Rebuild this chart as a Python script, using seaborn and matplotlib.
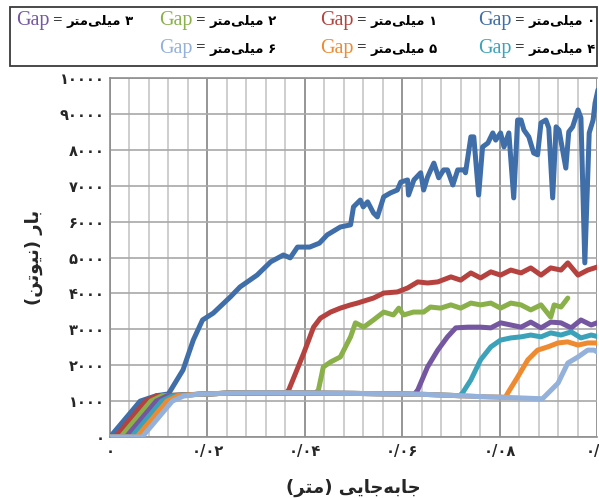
import matplotlib
matplotlib.use("Agg")
import matplotlib.pyplot as plt
from matplotlib.patches import Rectangle
from matplotlib.offsetbox import TextArea, HPacker, AnnotationBbox
import numpy as np
import pandas as pd
import seaborn as sns

# ---- data: load (N) vs displacement (m) for each gap size ----
gaps_mm = [0, 1, 2, 3, 4, 5, 6]

gap0_x = [0, 0.0062, 0.0095, 0.012, 0.015, 0.0171, 0.019, 0.0212, 0.0247, 0.0267, 0.0302,
          0.033, 0.0356, 0.037, 0.0385, 0.041, 0.043, 0.0446, 0.0473, 0.0494, 0.050, 0.0514,
          0.052, 0.0529, 0.0541, 0.0549, 0.0562, 0.0576, 0.059, 0.0597, 0.0611, 0.0613,
          0.0624, 0.0638, 0.0644, 0.0652, 0.0665, 0.0675, 0.0685, 0.0693, 0.0704, 0.0714,
          0.0727, 0.073, 0.0741, 0.0747, 0.0757, 0.0765, 0.0776, 0.0786, 0.0792, 0.0802,
          0.0809, 0.0819, 0.0829, 0.0837, 0.0844, 0.085, 0.086, 0.087, 0.0878, 0.0885,
          0.0895, 0.0901, 0.0909, 0.0916, 0.0922, 0.0936, 0.0942, 0.095, 0.0961, 0.0967,
          0.0975, 0.0984, 0.0992, 0.0996, 0.1002]
gap0_y = [0, 1000, 1150, 1200, 1870, 2700, 3260, 3450, 3900, 4180, 4510,
          4880, 5070, 4990, 5290, 5290, 5400, 5630, 5850, 5910, 6410, 6600,
          6410, 6550, 6240, 6130, 6690, 6800, 6880, 7100, 7160, 6740,
          7160, 7360, 6880, 7240, 7630, 7220, 7440, 7440, 7020, 7440,
          7440, 7360, 8360, 8360, 6740, 8080, 8190, 8470, 8270, 8470,
          8080, 8470, 6660, 8830, 8830, 8550, 8360, 7910, 7860, 8750,
          8830, 8610, 6660, 8640, 8550, 7490, 8500, 8640, 9110, 8890,
          4850, 8470, 8830, 9300, 9670]

gap1_x = [0, 0.0011, 0.0073, 0.0096, 0.015, 0.02, 0.025, 0.03, 0.035, 0.0362, 0.0367,
          0.0398, 0.0418, 0.0432, 0.0453, 0.0473, 0.0494, 0.0508, 0.0529, 0.0541, 0.0562,
          0.059, 0.0611, 0.0632, 0.0652, 0.0673, 0.07, 0.072, 0.0741, 0.0761, 0.0782,
          0.0802, 0.0823, 0.0844, 0.0864, 0.0885, 0.0905, 0.0926, 0.094, 0.0961, 0.0981,
          0.1002]
gap1_y = [0, 0, 1000, 1150, 1170, 1200, 1225, 1230, 1230, 1230, 1310,
          2340, 3060, 3310, 3480, 3590, 3680, 3730, 3820, 3870, 4010,
          4040, 4150, 4320, 4290, 4320, 4460, 4370, 4570, 4430, 4600,
          4510, 4650, 4570, 4710, 4510, 4710, 4650, 4850, 4510, 4650,
          4740]

gap2_x = [0, 0.0022, 0.0084, 0.0107, 0.015, 0.02, 0.025, 0.03, 0.035, 0.04, 0.0422,
          0.0428, 0.0438, 0.0453, 0.0473, 0.0494, 0.0504, 0.0521, 0.0541, 0.0562, 0.0582,
          0.0593, 0.0603, 0.0623, 0.0644, 0.0658, 0.0679, 0.07, 0.072, 0.0741, 0.0761,
          0.0782, 0.0802, 0.0823, 0.0844, 0.0864, 0.0885, 0.0905, 0.0912, 0.0926, 0.094]
gap2_y = [0, 0, 1000, 1150, 1170, 1200, 1225, 1230, 1230, 1225, 1222,
          1310, 1950, 2090, 2230, 2790, 3180, 3060, 3260, 3480, 3400,
          3590, 3400, 3480, 3480, 3620, 3590, 3680, 3590, 3730, 3680,
          3730, 3590, 3730, 3680, 3540, 3680, 3340, 3680, 3620, 3870]

gap3_x = [0, 0.0033, 0.0095, 0.0118, 0.015, 0.02, 0.025, 0.03, 0.035, 0.04, 0.045,
          0.05, 0.055, 0.06, 0.0625, 0.0632, 0.0652, 0.0673, 0.0693, 0.071, 0.0735,
          0.0761, 0.0782, 0.0802, 0.0823, 0.0844, 0.0864, 0.0885, 0.0905, 0.0926, 0.0947,
          0.0967, 0.0988, 0.1004]
gap3_y = [0, 0, 1000, 1150, 1170, 1200, 1225, 1230, 1230, 1225, 1220,
          1215, 1205, 1200, 1190, 1310, 1950, 2420, 2790, 3040, 3060,
          3060, 3040, 3180, 3120, 3060, 3200, 3040, 3200, 3180, 3040,
          3260, 3120, 3200]

gap4_x = [0, 0.0044, 0.0106, 0.0129, 0.016, 0.02, 0.025, 0.03, 0.035, 0.04, 0.045,
          0.05, 0.055, 0.06, 0.065, 0.07, 0.0718, 0.0724, 0.0741, 0.0761, 0.0782,
          0.0802, 0.0823, 0.0844, 0.0864, 0.0885, 0.0905, 0.0926, 0.0947, 0.0967, 0.0988,
          0.1004]
gap4_y = [0, 0, 1000, 1150, 1175, 1200, 1225, 1230, 1230, 1225, 1220,
          1215, 1205, 1200, 1185, 1160, 1150, 1230, 1590, 2150, 2510,
          2700, 2760, 2790, 2840, 2790, 2900, 2840, 2930, 2760, 2840,
          2790]

gap5_x = [0, 0.0055, 0.0117, 0.014, 0.017, 0.02, 0.025, 0.03, 0.035, 0.04, 0.045,
          0.05, 0.055, 0.06, 0.065, 0.07, 0.075, 0.08, 0.0812, 0.0817, 0.0837,
          0.0858, 0.0878, 0.0899, 0.092, 0.094, 0.0961, 0.0981, 0.1004]
gap5_y = [0, 0, 1000, 1150, 1185, 1200, 1225, 1230, 1230, 1225, 1220,
          1215, 1205, 1200, 1185, 1160, 1130, 1110, 1105, 1230, 1670,
          2150, 2420, 2510, 2620, 2650, 2560, 2620, 2620]

gap6_x = [0, 0.0066, 0.0128, 0.0151, 0.018, 0.02, 0.025, 0.03, 0.035, 0.04, 0.045,
          0.05, 0.055, 0.06, 0.065, 0.07, 0.075, 0.08, 0.085, 0.0888, 0.092,
          0.094, 0.0961, 0.0981, 0.0994, 0.1004]
gap6_y = [0, 0, 1000, 1140, 1190, 1200, 1225, 1230, 1230, 1225, 1220,
          1215, 1205, 1200, 1185, 1160, 1130, 1110, 1085, 1065, 1500,
          2060, 2230, 2420, 2420, 2340]

series_x = [gap0_x, gap1_x, gap2_x, gap3_x, gap4_x, gap5_x, gap6_x]
series_y = [gap0_y, gap1_y, gap2_y, gap3_y, gap4_y, gap5_y, gap6_y]

colors = ["#3F6EA8", "#B5423E", "#8AB04A", "#7457A0", "#3CA2BA", "#EE8A30", "#93B1DB"]

# Persian tick labels
x_ticks = [0, 0.02, 0.04, 0.06, 0.08, 0.1]
x_tick_labels = ["۰", "۰/۰۲", "۰/۰۴", "۰/۰۶", "۰/۰۸", "۰/۱"]
y_ticks = [0, 1000, 2000, 3000, 4000, 5000, 6000, 7000, 8000, 9000, 10000]
y_tick_labels = ["۰", "۱۰۰۰", "۲۰۰۰", "۳۰۰۰", "۴۰۰۰", "۵۰۰۰",
                 "۶۰۰۰", "۷۰۰۰", "۸۰۰۰", "۹۰۰۰۰", "۱۰۰۰۰"]
fa_digits = "۰۱۲۳۴۵۶۷۸۹"

# Persian words written as presentation forms in visual (left-to-right) order
word_millimetre = "\uFEAE\uFE98\uFEE3\uFEF0\uFEE0\uFEF4\uFEE3"          # میلی‌متر
y_title = "(\uFEE6\uFE97\uFEEE\uFEF4\uFEE7) \uFEAD\uFE8E\uFE91"          # بار (نیوتن)
x_title = "(\uFEAE\uFE98\uFEE3) \uFEF0\uFEF3\uFE8E\uFE9F\uFEEA\uFE91\uFE8E\uFE9F"  # جابه‌جایی (متر)

# ---- build long-form table ----
frames = []
for g, xs, ys in zip(gaps_mm, series_x, series_y):
    frames.append(pd.DataFrame({"disp": xs, "load": ys, "gap": str(g)}))
df = pd.concat(frames, ignore_index=True)

sns.set_theme(style="white")
plt.rcParams["font.family"] = ["DejaVu Sans"]

fig = plt.figure(figsize=(5.99, 4.98), dpi=100)
ax = fig.add_axes([110 / 599, 1 - 437 / 498, (597 - 110) / 599, (437 - 78) / 498])

# grid: minor verticals, major verticals, horizontals
for xv in np.arange(0, 0.1001, 0.004):
    is_major = abs(xv / 0.02 - round(xv / 0.02)) < 1e-6
    ax.axvline(xv, color="#8E8E8E" if is_major else "#C6C6C6",
               lw=1.3 if is_major else 1.2, zorder=0)
for yv in y_ticks:
    ax.axhline(yv, color="#A8A8A8", lw=1.2, zorder=0)

sns.lineplot(data=df, x="disp", y="load", hue="gap", palette=colors,
             hue_order=[str(g) for g in gaps_mm], estimator=None, sort=False,
             linewidth=3.6, legend=False, ax=ax, zorder=3)
for line in ax.get_lines():
    line.set_solid_capstyle("round")
    line.set_solid_joinstyle("round")

ax.set_xlim(0, 0.1)
ax.set_ylim(0, 10000)
ax.set_xticks(x_ticks)
ax.set_xticklabels(x_tick_labels, fontsize=10.5, fontweight="bold")
ax.set_yticks(y_ticks)
ax.set_yticklabels(y_tick_labels, fontsize=10.5, fontweight="bold")
ax.tick_params(axis="both", length=0)
ax.tick_params(axis="y", pad=4)
ax.tick_params(axis="x", pad=5)
for s in ax.spines.values():
    s.set_color("#8E8E8E")
    s.set_linewidth(1.2)
ax.spines["right"].set_visible(False)

ax.set_xlabel(x_title, fontsize=13, fontweight="bold", labelpad=14)
ax.set_ylabel(y_title, fontsize=13, fontweight="bold", labelpad=12)

# ---- legend: coloured "Gap" followed by the gap size in millimetres ----
fig.add_artist(Rectangle((10 / 599, 1 - 66 / 498), (597 - 10) / 599, 59 / 498,
                         transform=fig.transFigure, fill=False,
                         edgecolor="#3A3A3A", lw=1.3))
col_right = [596, 438, 277, 134]
row_y = [20, 48]
slots = [(0, 0), (0, 1), (0, 2), (0, 3), (1, 0), (1, 1), (1, 2)]
for g, color, (r, c) in zip(gaps_mm, colors, slots):
    parts = [
        TextArea("Gap", textprops=dict(color=color, family=["Liberation Serif"], size=14.5)),
        TextArea(" = ", textprops=dict(color="black", family=["Liberation Serif"], size=12)),
        TextArea(word_millimetre + " " + fa_digits[g],
                 textprops=dict(color="black", family=["DejaVu Sans"], size=9.5, weight="bold")),
    ]
    box = HPacker(children=parts, align="baseline", pad=0, sep=0)
    ab = AnnotationBbox(box, (col_right[c] / 599, 1 - row_y[r] / 498),
                        xycoords="figure fraction", box_alignment=(1, 0.5),
                        frameon=False, pad=0)
    fig.add_artist(ab)

fig.savefig("out.png", dpi=100)
